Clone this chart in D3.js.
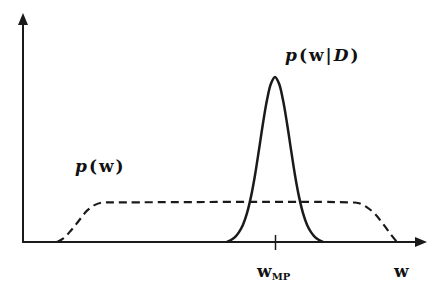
<!DOCTYPE html>
<html lang="en">
<head>
<meta charset="UTF-8">
<title>Prior and posterior</title>
<script src="https://cdn.jsdelivr.net/npm/d3@7"></script>
<style>
  body { margin: 0; background: #fff; }
  text { font-family: "DejaVu Serif", "Liberation Serif", serif; fill: #111; }
</style>
</head>
<body>
<svg id="chart" width="427" height="284"></svg>
<script>
// prior p(w): broad, flat (dashed)
const priorW = [8.5, 10, 12, 14, 16, 18, 20, 22, 82, 84, 86, 88, 90, 92, 93.5]
const priorP = [0, 0.02, 0.07, 0.13, 0.19, 0.225, 0.24, 0.24, 0.24, 0.235, 0.21, 0.17, 0.11, 0.045, 0]

// posterior p(w|D): narrow peak at w_MP
const postW = [51, 52, 53, 54, 55, 56, 57, 58, 59, 60, 61, 62, 63, 64, 65, 66, 67, 68, 69, 70, 71, 72, 73, 74, 75]
const postP = [0, 0.012, 0.03, 0.06, 0.105, 0.175, 0.275, 0.405, 0.56, 0.72, 0.86, 0.96, 1,
               0.96, 0.86, 0.72, 0.56, 0.405, 0.275, 0.175, 0.105, 0.06, 0.03, 0.012, 0]

const wMP = 63
const tickLabels = ['w', 'w']

const svg = d3.select('#chart')
const ink = '#1a1a1a'

const x = d3.scaleLinear().domain([0, 101]).range([23, 427])
const y = d3.scaleLinear().domain([0, 1]).range([242, 77])

const line = d3.line().curve(d3.curveCatmullRom)

// axes lines
svg.append('line')
  .attr('x1', x(0)).attr('x2', x(100)).attr('y1', y(0)).attr('y2', y(0))
  .attr('stroke', ink).attr('stroke-width', 2)
svg.append('line')
  .attr('x1', x(0)).attr('x2', x(0)).attr('y1', y(0) + 1).attr('y2', 22)
  .attr('stroke', ink).attr('stroke-width', 2)

// arrow heads
svg.append('path')
  .attr('d', `M${x(0)},13 L${x(0) - 5},25 L${x(0) + 5},25 Z`)
  .attr('fill', ink)
svg.append('path')
  .attr('d', `M${x(101)},${y(0)} L${x(101) - 12},${y(0) - 5} L${x(101) - 12},${y(0) + 5} Z`)
  .attr('fill', ink)

// tick at w_MP
const xAxis = d3.axisBottom(x).tickValues([wMP]).tickFormat('').tickSize(8).tickSizeOuter(0)
const gx = svg.append('g')
  .attr('transform', `translate(0, ${y(0)})`)
  .call(xAxis)
gx.select('.domain').remove()
gx.selectAll('.tick line')
  .attr('y1', -7).attr('y2', 8)
  .attr('stroke', ink).attr('stroke-width', 1.5)

// prior (dashed)
svg.append('path')
  .attr('d', line(priorW.map((w, i) => [x(w), y(priorP[i])])))
  .attr('fill', 'none')
  .attr('stroke', ink)
  .attr('stroke-width', 2.2)
  .attr('stroke-dasharray', '8,5')

// posterior (solid)
svg.append('path')
  .attr('d', line(postW.map((w, i) => [x(w), y(postP[i])])))
  .attr('fill', 'none')
  .attr('stroke', ink)
  .attr('stroke-width', 2.5)

// labels
const prior = svg.append('text').attr('x', 75).attr('y', 172).attr('font-size', 17)
  .attr('font-weight', 'bold').attr('letter-spacing', 2)
prior.append('tspan').attr('font-style', 'italic').text('p')
prior.append('tspan').text('(w)')

const post = svg.append('text').attr('x', 285).attr('y', 61).attr('font-size', 17)
  .attr('font-weight', 'bold').attr('letter-spacing', 2)
post.append('tspan').attr('font-style', 'italic').text('p')
post.append('tspan').text('(w|')
post.append('tspan').attr('font-style', 'italic').text('D')
post.append('tspan').text(')')

const mp = svg.append('text').attr('x', 257).attr('y', 277).attr('font-size', 17).attr('font-weight', 'bold')
mp.append('tspan').text(tickLabels[0])
mp.append('tspan').attr('font-size', 10).attr('dy', 3).text('MP')

svg.append('text').attr('x', 394).attr('y', 277).attr('font-size', 17).attr('font-weight', 'bold')
  .text(tickLabels[1])
</script>
</body>
</html>
